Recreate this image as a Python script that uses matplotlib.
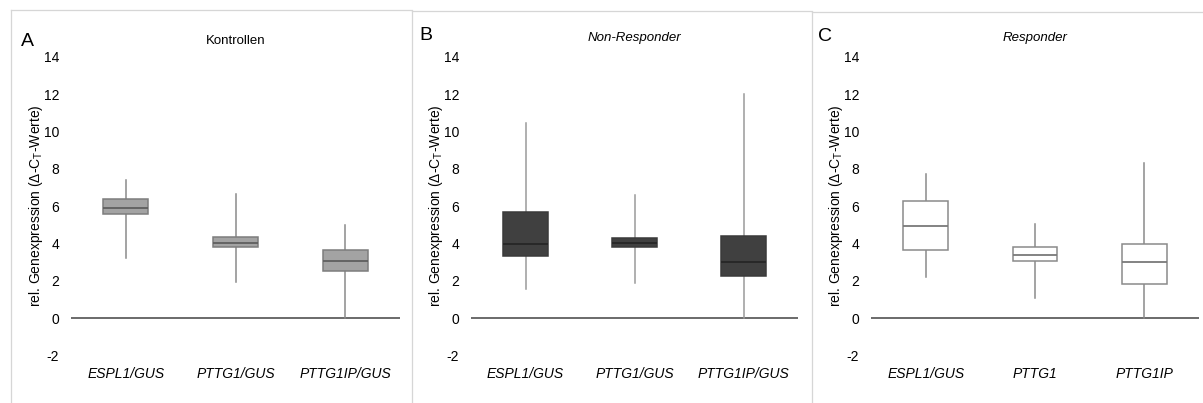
import matplotlib
matplotlib.use("Agg")
import matplotlib.pyplot as plt
from matplotlib.lines import Line2D

plt.rcParams['font.family'] = ['Liberation Sans', 'DejaVu Sans']
plt.rcParams['mathtext.fontset'] = 'custom'
plt.rcParams['mathtext.rm'] = 'Liberation Sans'

# ---- data ----
panel_letters = ["A", "B", "C"]
panel_titles = ["Kontrollen", "Non-Responder", "Responder"]
title_italic = [False, True, True]
categories_A = ["ESPL1/GUS", "PTTG1/GUS", "PTTG1IP/GUS"]
categories_B = ["ESPL1/GUS", "PTTG1/GUS", "PTTG1IP/GUS"]
categories_C = ["ESPL1/GUS", "PTTG1", "PTTG1IP"]

# whisker low, Q1, median, Q3, whisker high
kontrollen_low = [3.22, 1.91, 0.0]
kontrollen_q1 = [5.58, 3.81, 2.52]
kontrollen_med = [5.92, 4.01, 3.06]
kontrollen_q3 = [6.40, 4.33, 3.65]
kontrollen_high = [7.39, 6.64, 4.97]

nonresp_low = [1.56, 1.88, 0.0]
nonresp_q1 = [3.33, 3.79, 2.25]
nonresp_med = [3.95, 4.03, 2.99]
nonresp_q3 = [5.67, 4.31, 4.40]
nonresp_high = [10.43, 6.60, 12.02]

resp_low = [2.22, 1.07, 0.0]
resp_q1 = [3.67, 3.08, 1.84]
resp_med = [4.94, 3.38, 3.00]
resp_q3 = [6.28, 3.80, 3.97]
resp_high = [7.73, 5.03, 8.32]

yticks = [-2, 0, 2, 4, 6, 8, 10, 12, 14]
ylabel = r"rel. Genexpression (Δ-C$_\mathregular{T}$-Werte)"

# ---- styles ----
W, H = 1203, 403
fig = plt.figure(figsize=(W / 100, H / 100), dpi=100)

def fx(px):
    return px / W

def fy(py):
    return 1 - py / H

styles = [
    dict(face="#a3a3a3", edge="#7d7d7d", med="#5f5f5f", whisk="#8a8a8a"),
    dict(face="#404040", edge="#3a3a3a", med="#262626", whisk="#9a9a9a"),
    dict(face="#ffffff", edge="#8a8a8a", med="#7a7a7a", whisk="#8a8a8a"),
]

datasets = [
    (categories_A, kontrollen_low, kontrollen_q1, kontrollen_med, kontrollen_q3, kontrollen_high),
    (categories_B, nonresp_low, nonresp_q1, nonresp_med, nonresp_q3, nonresp_high),
    (categories_C, resp_low, resp_q1, resp_med, resp_q3, resp_high),
]

ax_left_px = [71, 471, 871]
ax_right_px = [400, 798, 1199]
ymin, ymax = -2.5, 14.5
y0_px, y14_px = 318.0, 56.7
ppu = (y0_px - y14_px) / 14
top_px = y0_px - ymax * ppu
bot_px = y0_px - ymin * ppu

letter_pos = [(27, 41.5), (426, 35), (825, 36.5)]
title_y = [41, 37.7, 37.7]

for i in range(3):
    cats, lo, q1, med, q3, hi = datasets[i]
    st = styles[i]
    ax = fig.add_axes([fx(ax_left_px[i]), fy(bot_px),
                       fx(ax_right_px[i] - ax_left_px[i]), (bot_px - top_px) / H])
    stats = []
    for k in range(3):
        stats.append(dict(whislo=lo[k], q1=q1[k], med=med[k], q3=q3[k],
                          whishi=hi[k], fliers=[], label=cats[k]))
    ax.bxp(stats, positions=[1, 2, 3], widths=0.41, patch_artist=True,
           showcaps=False, showfliers=False,
           boxprops=dict(facecolor=st["face"], edgecolor=st["edge"], linewidth=1.1, zorder=4),
           medianprops=dict(color=st["med"], linewidth=1.3, zorder=5),
           whiskerprops=dict(color=st["whisk"], linewidth=1.1, zorder=3))
    ax.axhline(0, color="#6a6a6a", linewidth=1.4, zorder=2)
    ax.set_xlim(0.5, 3.5)
    ax.set_ylim(ymin, ymax)
    ax.set_yticks(yticks)
    ax.set_yticklabels([str(t) for t in yticks], fontsize=10)
    ax.set_xticks([1, 2, 3])
    ax.set_xticklabels(cats, fontsize=10, style="italic")
    ax.tick_params(axis="y", length=0, pad=8.5)
    ax.tick_params(axis="x", length=0, pad=1.5)
    for s in ax.spines.values():
        s.set_visible(False)
    ax.patch.set_alpha(0)
    ax.text(-0.106, 0.5, ylabel, rotation=90, ha="center", va="center",
            fontsize=10, transform=ax.transAxes)
    cx = (ax_left_px[i] + ax_right_px[i]) / 2
    fig.text(fx(cx), fy(title_y[i]), panel_titles[i], ha="center", va="center",
             fontsize=9.5, style="italic" if title_italic[i] else "normal")
    lx, ly = letter_pos[i]
    fig.text(fx(lx), fy(ly), panel_letters[i], ha="center", va="center", fontsize=14)

# panel frames
border_col = "#d6d6d6"
frames = [(10.7, 10.3, 411.7), (411.7, 11.0, 811.7), (811.7, 12.3, 1203)]
for (x0, yt, x1) in frames:
    fig.add_artist(Line2D([fx(x0), fx(x0)], [fy(yt), fy(H)], color=border_col,
                          linewidth=0.9, transform=fig.transFigure))
    fig.add_artist(Line2D([fx(x0), fx(x1)], [fy(yt), fy(yt)], color=border_col,
                          linewidth=0.9, transform=fig.transFigure))

fig.savefig("out.png", dpi=100, facecolor="white")
